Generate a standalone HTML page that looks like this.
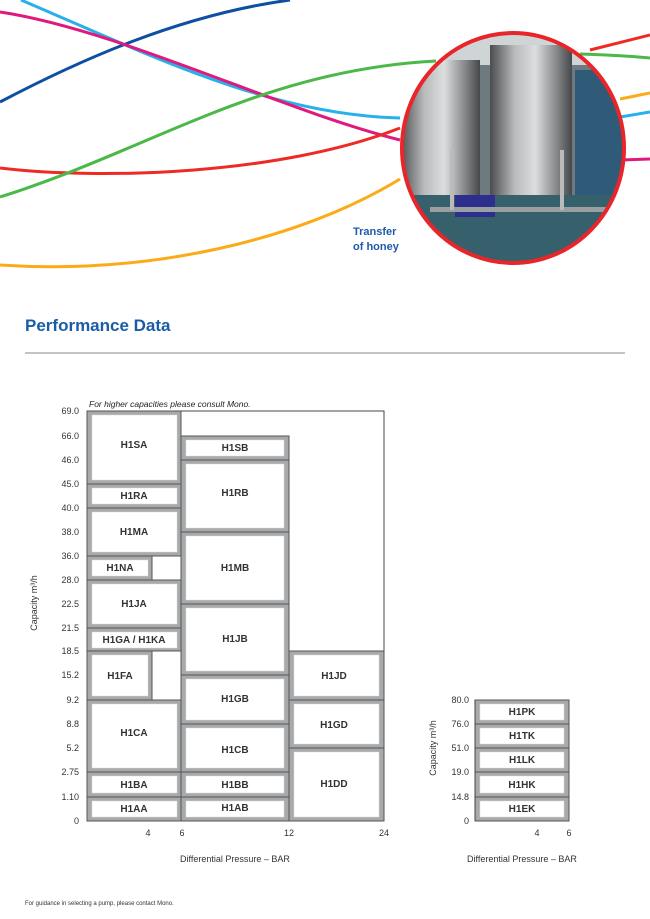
<!DOCTYPE html>
<html><head><meta charset="utf-8"><style>
body{margin:0;background:#fff;}
svg{display:block;font-family:"Liberation Sans",Arial,sans-serif;}
</style></head><body>
<svg width="650" height="919" viewBox="0 0 650 919" xmlns="http://www.w3.org/2000/svg">
<defs>
<clipPath id="cc"><ellipse cx="513" cy="148" rx="111" ry="115"/></clipPath>
<linearGradient id="tank" x1="0" x2="1"><stop offset="0" stop-color="#4a4c4e"/><stop offset="0.3" stop-color="#b8babb"/><stop offset="0.55" stop-color="#dcdedf"/><stop offset="0.8" stop-color="#8a8c8e"/><stop offset="1" stop-color="#45484a"/></linearGradient>
</defs>
<g fill="none" stroke-width="3">
<path d="M0,102 C80,60 180,15 290,0" stroke="#0d4fa0"/>
<path d="M21,0 C150,55 270,115 400,118" stroke="#27b0ea"/>
<path d="M0,12 C120,30 280,110 400,140" stroke="#e0197d"/>
<path d="M0,168 C100,180 280,175 400,128" stroke="#ee2a24"/>
<path d="M0,197 C150,150 260,70 436,61" stroke="#4bb848"/>
<path d="M0,265 C150,275 300,240 400,179" stroke="#fbab18"/>
<path d="M590,50 L650,35" stroke="#ee2a24"/>
<path d="M580,54 C610,55 630,56 650,58" stroke="#4bb848"/>
<path d="M620,99 L650,93" stroke="#fbab18"/>
<path d="M620,117 L650,112" stroke="#27b0ea"/>
<path d="M620,160 L650,159" stroke="#e0197d"/>
</g>
<g clip-path="url(#cc)">
<rect x="400" y="30" width="230" height="240" fill="#6f7a80"/>
<rect x="400" y="30" width="230" height="35" fill="#cfd4d6"/>
<rect x="400" y="60" width="80" height="140" fill="url(#tank)"/>
<rect x="490" y="45" width="82" height="160" fill="url(#tank)"/>
<rect x="575" y="70" width="50" height="130" fill="#2f5a78"/>
<rect x="400" y="195" width="230" height="75" fill="#35606c"/>
<rect x="455" y="195" width="40" height="22" fill="#2c2f8c"/>
<rect x="430" y="207" width="180" height="5" fill="#9a9fa2"/>
<rect x="450" y="150" width="4" height="60" fill="#bbb"/>
<rect x="560" y="150" width="4" height="60" fill="#bbb"/>
</g>
<ellipse cx="513" cy="148" rx="111" ry="115" fill="none" stroke="#e8262a" stroke-width="4"/>
<text x="353" y="235" font-size="11" font-weight="bold" fill="#1e5aa8">Transfer</text>
<text x="353" y="250" font-size="11" font-weight="bold" fill="#1e5aa8">of honey</text>
<text x="25" y="331" font-size="17" font-weight="bold" fill="#1a5ca8">Performance Data</text>
<line x1="25" y1="353" x2="625" y2="353" stroke="#888" stroke-width="1"/>

<text x="89" y="407" font-size="8.5" font-style="italic" fill="#222">For higher capacities please consult Mono.</text>
<rect x="87" y="411" width="297" height="240" fill="none" stroke="#444" stroke-width="1"/>
<line x1="87" y1="411" x2="87" y2="821" stroke="#444"/>
<line x1="87" y1="821" x2="384" y2="821" stroke="#444"/>
<g font-size="9" fill="#333" text-anchor="end">
<text x="79" y="414">69.0</text><text x="79" y="439">66.0</text><text x="79" y="463">46.0</text><text x="79" y="487">45.0</text><text x="79" y="511">40.0</text><text x="79" y="535">38.0</text><text x="79" y="559">36.0</text><text x="79" y="583">28.0</text><text x="79" y="607">22.5</text><text x="79" y="631">21.5</text><text x="79" y="654">18.5</text><text x="79" y="678">15.2</text><text x="79" y="703">9.2</text><text x="79" y="727">8.8</text><text x="79" y="751">5.2</text><text x="79" y="775">2.75</text><text x="79" y="800">1.10</text><text x="79" y="824">0</text>
</g>
<g font-size="9" fill="#333" text-anchor="middle">
<text x="148" y="836">4</text><text x="182" y="836">6</text><text x="289" y="836">12</text><text x="384" y="836">24</text>
<text x="235" y="862">Differential Pressure – BAR</text>
<text x="522" y="862">Differential Pressure – BAR</text>
<text x="537" y="836">4</text><text x="569" y="836">6</text>
</g>
<text transform="translate(37,603) rotate(-90)" font-size="9" fill="#333" text-anchor="middle">Capacity m³/h</text>
<text transform="translate(436,748) rotate(-90)" font-size="9" fill="#333" text-anchor="middle">Capacity m³/h</text>

<g stroke="#555" stroke-width="1" fill="#a7a9ab">
<rect x="87" y="411" width="94" height="73"/><rect x="87" y="484" width="94" height="24"/><rect x="87" y="508" width="94" height="48"/><rect x="87" y="556" width="65" height="24"/><rect x="152" y="556" width="29" height="24" fill="#fff"/><rect x="87" y="580" width="94" height="48"/><rect x="87" y="628" width="94" height="23"/><rect x="87" y="651" width="65" height="49"/><rect x="152" y="651" width="29" height="49" fill="#fff"/><rect x="87" y="700" width="94" height="72"/><rect x="87" y="772" width="94" height="25"/><rect x="87" y="797" width="94" height="24"/>
<rect x="181" y="436" width="108" height="24"/><rect x="181" y="460" width="108" height="72"/><rect x="181" y="532" width="108" height="72"/><rect x="181" y="604" width="108" height="71"/><rect x="181" y="675" width="108" height="49"/><rect x="181" y="724" width="108" height="48"/><rect x="181" y="772" width="108" height="25"/><rect x="181" y="797" width="108" height="24"/>
<rect x="289" y="651" width="95" height="49"/><rect x="289" y="700" width="95" height="48"/><rect x="289" y="748" width="95" height="73"/>
<rect x="475" y="700" width="94" height="24"/><rect x="475" y="724" width="94" height="24"/><rect x="475" y="748" width="94" height="24"/><rect x="475" y="772" width="94" height="25"/><rect x="475" y="797" width="94" height="24"/>
</g>
<g fill="#fff" stroke="#ddd" stroke-width="0.5">
<rect x="92" y="415" width="85" height="65"/><rect x="92" y="488" width="85" height="16"/><rect x="92" y="512" width="85" height="40"/><rect x="92" y="560" width="56" height="16"/><rect x="92" y="584" width="85" height="40"/><rect x="92" y="632" width="85" height="16"/><rect x="92" y="655" width="56" height="41"/><rect x="92" y="704" width="85" height="64"/><rect x="92" y="776" width="85" height="17"/><rect x="92" y="801" width="85" height="16"/>
<rect x="186" y="440" width="98" height="16"/><rect x="186" y="464" width="98" height="64"/><rect x="186" y="536" width="98" height="64"/><rect x="186" y="608" width="98" height="63"/><rect x="186" y="679" width="98" height="41"/><rect x="186" y="728" width="98" height="40"/><rect x="186" y="776" width="98" height="17"/><rect x="186" y="801" width="98" height="16"/>
<rect x="294" y="655" width="85" height="41"/><rect x="294" y="704" width="85" height="40"/><rect x="294" y="752" width="85" height="65"/>
<rect x="480" y="704" width="84" height="16"/><rect x="480" y="728" width="84" height="16"/><rect x="480" y="752" width="84" height="16"/><rect x="480" y="776" width="84" height="17"/><rect x="480" y="801" width="84" height="16"/>
</g>
<g font-size="10" font-weight="bold" fill="#333" text-anchor="middle">
<text x="134" y="448">H1SA</text><text x="134" y="499">H1RA</text><text x="134" y="535">H1MA</text><text x="120" y="571">H1NA</text><text x="134" y="607">H1JA</text><text x="134" y="643">H1GA / H1KA</text><text x="120" y="679">H1FA</text><text x="134" y="736">H1CA</text><text x="134" y="788">H1BA</text><text x="134" y="812">H1AA</text>
<text x="235" y="451">H1SB</text><text x="235" y="496">H1RB</text><text x="235" y="571">H1MB</text><text x="235" y="642">H1JB</text><text x="235" y="702">H1GB</text><text x="235" y="753">H1CB</text><text x="235" y="788">H1BB</text><text x="235" y="811">H1AB</text>
<text x="334" y="679">H1JD</text><text x="334" y="728">H1GD</text><text x="334" y="787">H1DD</text>
<text x="522" y="715">H1PK</text><text x="522" y="739">H1TK</text><text x="522" y="763">H1LK</text><text x="522" y="788">H1HK</text><text x="522" y="812">H1EK</text>
</g>
<line x1="475" y1="700" x2="475" y2="821" stroke="#444"/>
<g font-size="9" fill="#333" text-anchor="end">
<text x="469" y="703">80.0</text><text x="469" y="727">76.0</text><text x="469" y="751">51.0</text><text x="469" y="775">19.0</text><text x="469" y="800">14.8</text><text x="469" y="824">0</text>
</g>
<text x="25" y="905" font-size="6" fill="#333">For guidance in selecting a pump, please contact Mono.</text>
</svg>
</body></html>
